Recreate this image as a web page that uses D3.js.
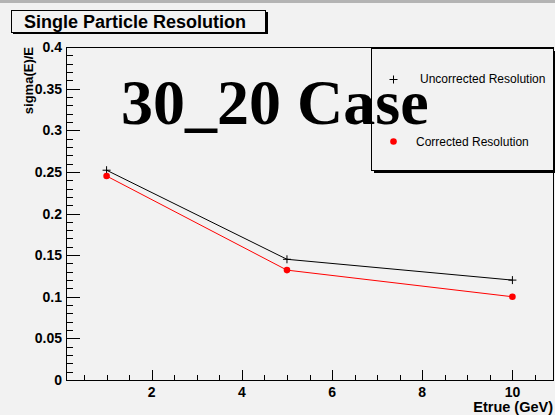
<!DOCTYPE html>
<html>
<head>
<meta charset="utf-8">
<script src="https://cdn.jsdelivr.net/npm/d3@7"></script>
<style>
  html, body { margin: 0; padding: 0; background: #f2f2f2; }
  svg { display: block; font-family: "Liberation Sans", Arial, Helvetica, sans-serif; }
</style>
</head>
<body>
<svg id="chart" width="555" height="415"></svg>
<script>
// Beam energies (GeV) and measured relative resolutions
const energies = [1, 5, 10];
const uncorrected = [0.252, 0.145, 0.120];
const corrected = [0.245, 0.132, 0.100];
const xTicks = [2, 4, 6, 8, 10];
const yTicks = [0, 0.05, 0.1, 0.15, 0.2, 0.25, 0.3, 0.35, 0.4];
const seriesNames = ["Uncorrected Resolution", "Corrected Resolution"];

const W = 555, H = 415;
const frame = { left: 66, right: 553, top: 47, bottom: 380 };

const svg = d3.select("#chart");

svg.append("rect").attr("width", W).attr("height", H).attr("fill", "#f2f2f2");
svg.append("rect").attr("x", 0).attr("y", 0).attr("width", W).attr("height", 3).attr("fill", "#b4b4b4");

const x = d3.scaleLinear().domain([0.1, 10.9]).range([frame.left, frame.right]);
const y = d3.scaleLinear().domain([0, 0.4]).range([frame.bottom, frame.top]);

// frame
svg.append("rect")
  .attr("x", frame.left + 0.5).attr("y", frame.top + 0.5)
  .attr("width", frame.right - frame.left).attr("height", frame.bottom - frame.top)
  .attr("fill", "none").attr("stroke", "#000").attr("stroke-width", 1);

// x axis: major ticks every 2, minor every 0.5
const xMinor = d3.range(0.5, 10.9, 0.5).filter(v => Math.abs(v / 2 - Math.round(v / 2)) > 1e-6);
const xAxis = svg.append("g").attr("transform", `translate(0,${frame.bottom})`);
xAxis.selectAll("line.minor").data(xMinor).join("line")
  .attr("x1", d => Math.round(x(d)) + 0.5).attr("x2", d => Math.round(x(d)) + 0.5)
  .attr("y1", 0).attr("y2", -5).attr("stroke", "#000");
xAxis.selectAll("line.major").data(xTicks).join("line")
  .attr("x1", d => Math.round(x(d)) + 0.5).attr("x2", d => Math.round(x(d)) + 0.5)
  .attr("y1", 0).attr("y2", -10).attr("stroke", "#000");
xAxis.selectAll("text").data(xTicks).join("text")
  .attr("x", d => x(d)).attr("y", 17)
  .attr("text-anchor", "middle").attr("font-weight", "bold").attr("font-size", 14)
  .text(d => d);

// y axis: major ticks every 0.05, minor every 0.01
const yMinor = d3.range(0, 41).map(i => i / 100).filter(v => Math.round(v * 100) % 5 !== 0);
const yAxis = svg.append("g").attr("transform", `translate(${frame.left},0)`);
yAxis.selectAll("line.minor").data(yMinor).join("line")
  .attr("y1", d => Math.round(y(d)) + 0.5).attr("y2", d => Math.round(y(d)) + 0.5)
  .attr("x1", 0).attr("x2", 7).attr("stroke", "#000");
yAxis.selectAll("line.major").data(yTicks).join("line")
  .attr("y1", d => Math.round(y(d)) + 0.5).attr("y2", d => Math.round(y(d)) + 0.5)
  .attr("x1", 0).attr("x2", 14).attr("stroke", "#000");
yAxis.selectAll("text").data(yTicks).join("text")
  .attr("x", -4).attr("y", d => y(d) + 5)
  .attr("text-anchor", "end").attr("font-weight", "bold").attr("font-size", 14)
  .text(d => d3.format("~g")(d));

// axis titles
svg.append("text")
  .attr("x", frame.right).attr("y", 412)
  .attr("text-anchor", "end").attr("font-weight", "bold").attr("font-size", 14.5)
  .text("Etrue (GeV)");
svg.append("text")
  .attr("transform", `translate(33,${frame.top}) rotate(-90)`)
  .attr("text-anchor", "end").attr("font-weight", "bold").attr("font-size", 13)
  .text("sigma(E)/E");

// series
const line = d3.line().x(d => x(d[0])).y(d => y(d[1]));
const uncPts = energies.map((e, i) => [e, uncorrected[i]]);
const corPts = energies.map((e, i) => [e, corrected[i]]);

svg.append("path").datum(uncPts).attr("d", line)
  .attr("fill", "none").attr("stroke", "#000").attr("stroke-width", 1);
svg.append("path").datum(corPts).attr("d", line)
  .attr("fill", "none").attr("stroke", "#ff0000").attr("stroke-width", 1);

function plus(g, cx, cy, s) {
  g.append("line").attr("x1", cx - s).attr("x2", cx + s).attr("y1", cy).attr("y2", cy).attr("stroke", "#000");
  g.append("line").attr("x1", cx).attr("x2", cx).attr("y1", cy - s).attr("y2", cy + s).attr("stroke", "#000");
}
const marks = svg.append("g");
uncPts.forEach(p => plus(marks, x(p[0]), y(p[1]), 4));
marks.selectAll("circle").data(corPts).join("circle")
  .attr("cx", d => x(d[0])).attr("cy", d => y(d[1])).attr("r", 3.3).attr("fill", "#ff0000");

// legend box with shadow
const lg = { x: 371, y: 48, w: 182, h: 122 };
svg.append("rect").attr("x", lg.x + 3).attr("y", lg.y + 3).attr("width", lg.w).attr("height", lg.h).attr("fill", "#000");
svg.append("rect").attr("x", lg.x + 0.5).attr("y", lg.y + 0.5).attr("width", lg.w).attr("height", lg.h)
  .attr("fill", "#f2f2f2").attr("stroke", "#000").attr("stroke-width", 1);
plus(svg, 393.5, 79.5, 4);
svg.append("text").attr("x", 420).attr("y", 83).attr("font-size", 12).text(seriesNames[0]);
svg.append("circle").attr("cx", 393.5).attr("cy", 141.5).attr("r", 3.3).attr("fill", "#ff0000");
svg.append("text").attr("x", 416).attr("y", 146).attr("font-size", 12).text(seriesNames[1]);

// title box
svg.append("rect").attr("x", 13).attr("y", 12).attr("width", 255).attr("height", 22).attr("fill", "#000");
svg.append("rect").attr("x", 11.5).attr("y", 10.5).attr("width", 254).attr("height", 22)
  .attr("fill", "#f2f2f2").attr("stroke", "#000").attr("stroke-width", 1);
svg.append("text").attr("x", 135).attr("y", 28).attr("text-anchor", "middle")
  .attr("font-weight", "bold").attr("font-size", 18).text("Single Particle Resolution");

// case label
svg.append("text").attr("x", 121).attr("y", 124)
  .style("font-family", "'Liberation Serif', 'Times New Roman', serif")
  .attr("font-weight", "bold").attr("font-size", 64).text("30_20 Case");
</script>
</body>
</html>
